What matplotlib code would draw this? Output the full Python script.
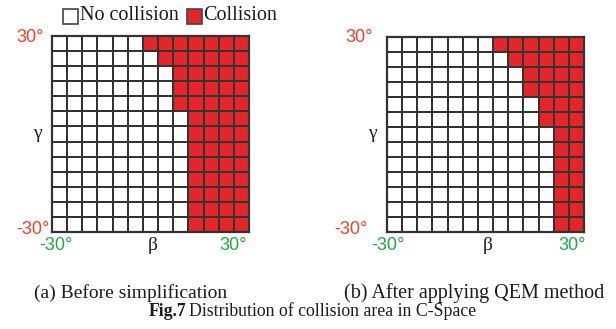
import numpy as np
import matplotlib.pyplot as plt
from matplotlib.colors import ListedColormap
from matplotlib.patches import Rectangle

plt.rcParams['font.family'] = ['Liberation Serif', 'DejaVu Serif']

# 13 x 13 sampling of (beta, gamma) in [-30, 30] deg.
# For each gamma row (top = +30 deg) the first beta column that collides.
n_cells = 13
before_first_hit = [6, 7, 8, 8, 8, 9, 9, 9, 9, 9, 9, 9, 9]
after_first_hit = [7, 8, 9, 9, 10, 10, 11, 11, 11, 11, 11, 11, 11]
panel_captions = ["(a) Before simplification", "(b) After applying QEM method"]
angle_min, angle_max = "-30°", "30°"

RED = "#e4262a"
GRID = "#333333"
ANGLE_RED = "#f2402a"
ANGLE_GREEN = "#21a845"
INK = "#1c1c1c"
SANS = ["Liberation Sans", "DejaVu Sans"]

W, H = 616, 329


def occupancy(first_hit):
    grid = np.zeros((n_cells, n_cells))
    for row, col in enumerate(first_hit):
        grid[row, col:] = 1
    return grid


def px_axes(fig, x0, y0, x1, y1):
    return fig.add_axes([x0 / W, 1 - y1 / H, (x1 - x0) / W, (y1 - y0) / H])


def label(fig, x, y, s, **kw):
    fig.text(x / W, 1 - y / H, s, va="center", **kw)


fig = plt.figure(figsize=(W / 100, H / 100), dpi=100)
cmap = ListedColormap(["white", RED])

# grid box in pixels, then gaps for the gamma labels (top, bottom)
# and the x shift of the beta-axis end labels
panels = [
    (before_first_hit, (52, 36, 249, 232), (8, 2), (4, -16)),
    (after_first_hit, (387, 37, 584, 232), (14, 19), (1, -12)),
]

for first_hit, box, ygap, xshift in panels:
    ax = px_axes(fig, *box)
    ax.pcolormesh(occupancy(first_hit), cmap=cmap, vmin=0, vmax=1,
                  edgecolors=GRID, linewidth=1.3)
    ax.set_xlim(0, n_cells)
    ax.set_ylim(n_cells, 0)
    ax.set_xticks([])
    ax.set_yticks([])
    for s in ax.spines.values():
        s.set_color(GRID)
        s.set_linewidth(1.6)

    x0, y0, x1, y1 = box
    fs = 13
    label(fig, x0 - ygap[0], y0 + 1, angle_max, color=ANGLE_RED, fontsize=fs,
          ha="right", family=SANS)
    label(fig, x0 - ygap[1], y1 - 3, angle_min, color=ANGLE_RED, fontsize=fs,
          ha="right", family=SANS)
    label(fig, x0 - 15, (y0 + y1) / 2 - 1, "γ", color=INK, fontsize=14,
          ha="center")
    label(fig, x0 + xshift[0], y1 + 13, angle_min, color=ANGLE_GREEN, fontsize=fs,
          ha="center", family=SANS)
    label(fig, (x0 + x1) / 2 + 2, y1 + 14, "β", color=INK, fontsize=14,
          ha="center")
    label(fig, x1 + xshift[1], y1 + 13, angle_max, color=ANGLE_GREEN, fontsize=fs,
          ha="center", family=SANS)

# captions
label(fig, 131, 293, panel_captions[0], fontsize=14, color=INK, ha="center")
label(fig, 474, 293, panel_captions[1], fontsize=14.5, color=INK, ha="center")
label(fig, 149, 311, "Fig.7", fontsize=12.8, color=INK, ha="left", weight="bold")
label(fig, 189, 311, "Distribution of collision area in C-Space", fontsize=12.8,
      color=INK, ha="left")

# legend
leg = fig.add_axes([0, 0, 1, 1], facecolor="none")
leg.set_xlim(0, W)
leg.set_ylim(H, 0)
leg.axis("off")
leg.add_patch(Rectangle((63, 9), 15, 15, facecolor="white", edgecolor="#444444", lw=1.2))
leg.text(80, 16, "No collision", fontsize=14.5, color=INK, va="center")
leg.add_patch(Rectangle((187, 9), 15, 15, facecolor=RED, edgecolor="#444444", lw=1.2))
leg.text(203, 16, "Collision", fontsize=14.5, color=INK, va="center")

fig.savefig("out.png", dpi=100)
